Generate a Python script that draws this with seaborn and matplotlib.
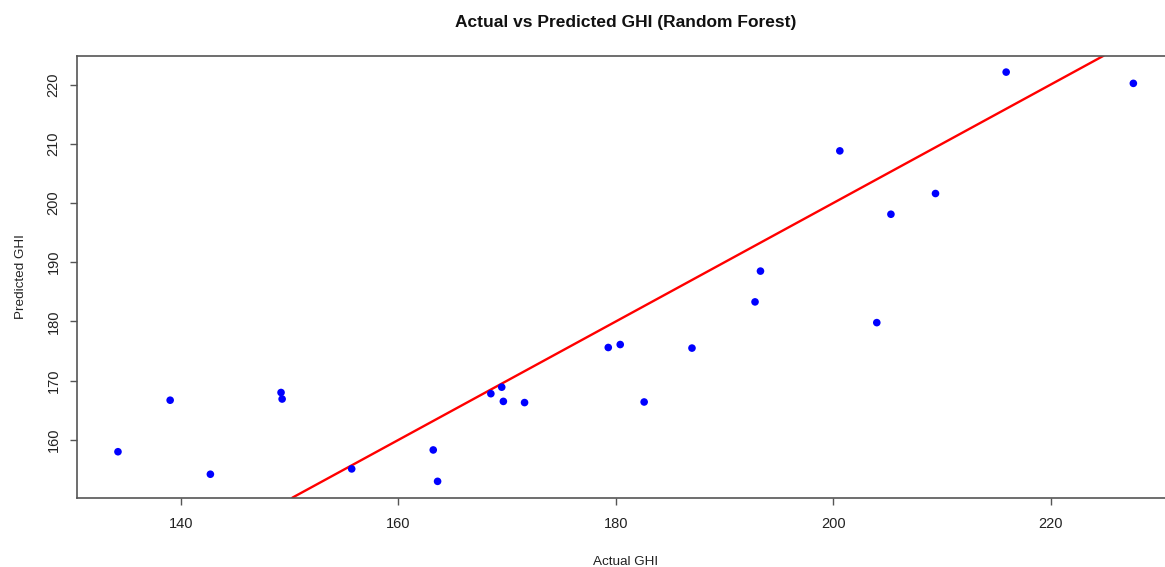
import matplotlib
matplotlib.use("Agg")
import matplotlib.pyplot as plt
import seaborn as sns
import pandas as pd

# Observed vs. random-forest predicted global horizontal irradiance
actual_ghi = [134.2, 139.0, 142.7, 149.2, 149.3, 155.7, 163.2, 163.6,
              168.5, 169.5, 169.65, 171.6, 179.3, 180.4, 182.6, 187.0,
              192.8, 193.3, 200.6, 204.0, 205.3, 209.4, 215.9, 227.6]
predicted_ghi = [158.0, 166.7, 154.2, 168.0, 166.9, 155.1, 158.3, 153.0,
                 167.8, 168.9, 166.5, 166.3, 175.6, 176.1, 166.4, 175.5,
                 183.3, 188.5, 208.8, 179.8, 198.1, 201.6, 222.1, 220.2]
x_ticks = [140, 160, 180, 200, 220]
y_ticks = [160, 170, 180, 190, 200, 210, 220]

df = pd.DataFrame({"Actual GHI": actual_ghi, "Predicted GHI": predicted_ghi})

sns.set_theme(style="white")
plt.rcParams["font.family"] = ["Liberation Sans", "DejaVu Sans"]

fig = plt.figure(figsize=(11.65, 5.67), dpi=100)
# plot region runs slightly past the right edge of the canvas
ax = fig.add_axes([0.0664, 0.1222, 0.9413, 0.7795])

sns.scatterplot(data=df, x="Actual GHI", y="Predicted GHI", ax=ax,
                color="#0000FF", s=30, edgecolor="none", zorder=3)

# Perfect-prediction reference line y = x
ax.axline((0, 0), slope=1, color="#FF0000", linewidth=1.7, zorder=2)

# Axis ranges padded by 4% like base graphics
def padded(vals):
    lo, hi = min(vals), max(vals)
    pad = 0.04 * (hi - lo)
    return lo - pad, hi + pad

ax.set_xlim(*padded(actual_ghi))
ax.set_ylim(*padded(predicted_ghi))
ax.set_xticks(x_ticks)
ax.set_yticks(y_ticks)
ax.tick_params(axis="both", direction="out", length=5, width=1,
               color="#555555", labelsize=10.5, labelcolor="#222222",
               bottom=True, left=True)
ax.tick_params(axis="x", pad=9)
ax.tick_params(axis="y", pad=7)
for lab in ax.get_yticklabels():
    lab.set_rotation(90)
    lab.set_va("center")

for sp in ax.spines.values():
    sp.set_color("#555555")
    sp.set_linewidth(1.2)

ax.set_xlabel("Actual GHI", fontsize=9.7, color="#222222", labelpad=18)
ax.set_ylabel("Predicted GHI", fontsize=9.7, color="#222222", labelpad=14)
ax.set_title("Actual vs Predicted GHI (Random Forest)", fontsize=12.5,
             fontweight="bold", color="#111111", pad=20.5)

fig.savefig("out.png", dpi=100)
